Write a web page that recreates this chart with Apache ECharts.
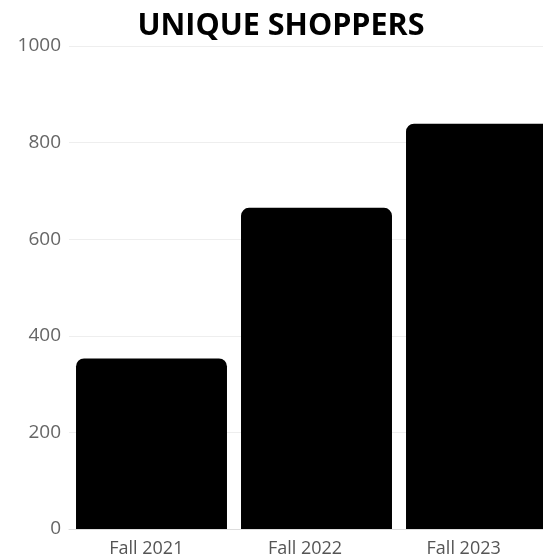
<!DOCTYPE html>
<html>
<head>
<meta charset="utf-8">
<script src="https://cdn.jsdelivr.net/npm/echarts@6/dist/echarts.min.js"></script>
<style>
html,body{margin:0;padding:0;background:#fff;}
#chart{width:543px;height:560px;}
</style>
</head>
<body>
<div id="chart"></div>
<script>
const titleText = "UNIQUE SHOPPERS";
const categories = ["Fall 2021", "Fall 2022", "Fall 2023"];
const shoppers = [353, 665, 839];
const yTicks = [0, 200, 400, 600, 800, 1000];

const chart = echarts.init(document.getElementById('chart'), null, {renderer: 'canvas'});
chart.setOption({
  animation: false,
  backgroundColor: '#ffffff',
  title: {
    text: titleText,
    left: 276,
    textAlign: 'center',
    top: 6,
    textStyle: {fontFamily: 'Open Sans', fontWeight: 'bold', fontSize: 30.5, color: '#000'}
  },
  grid: [
    {left: 69, width: 495, top: 46, bottom: 31, containLabel: false, outerBoundsMode: 'none'},
    {left: 67, width: 476, top: 46, bottom: 31, containLabel: false, outerBoundsMode: 'none'}
  ],
  xAxis: [{
    type: 'category',
    gridIndex: 0,
    data: categories,
    axisLine: {show: true, lineStyle: {color: '#dddddd', width: 1}},
    axisTick: {show: false},
    axisLabel: {show: false}
  }, {
    type: 'category',
    gridIndex: 1,
    data: categories,
    axisLine: {show: false},
    axisTick: {show: false},
    axisLabel: {fontFamily: 'Open Sans', fontSize: 18, color: '#555', margin: 11}
  }],
  yAxis: [{
    type: 'value',
    gridIndex: 0,
    min: yTicks[0],
    max: yTicks[yTicks.length - 1],
    interval: 200,
    axisLine: {show: false},
    axisTick: {show: false},
    splitLine: {lineStyle: {color: '#eeeeee', width: 1}},
    axisLabel: {fontFamily: 'Open Sans', fontSize: 19, color: '#666', margin: 8,
      formatter: function (v) { return String(v); }}
  }, {
    type: 'value',
    gridIndex: 1,
    min: yTicks[0],
    max: yTicks[yTicks.length - 1],
    show: false
  }],
  series: [{
    type: 'bar',
    xAxisIndex: 0,
    yAxisIndex: 0,
    data: shoppers,
    barCategoryGap: '8.5%',
    itemStyle: {color: '#000000', borderRadius: [8, 8, 0, 0]}
  }]
});
</script>
</body>
</html>
